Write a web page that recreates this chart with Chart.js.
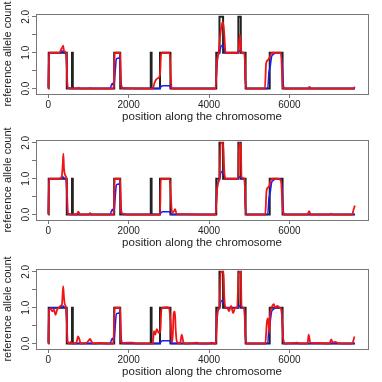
<!DOCTYPE html>
<html lang="en">
    <head>
        <meta charset="UTF-8">
        <title>reference allele count</title>
        <script src="https://cdn.jsdelivr.net/npm/chart.js"></script>
        <style>
            body {
                margin: 0;
                background: #ffffff;
            }
            .panel {
                position: absolute;
                left: 0;
                width: 382px;
                height: 127px;
            }
        </style>
    </head>
    <body>
        <canvas id="p1" class="panel" width="382" height="127" style="top:0px"></canvas>
        <canvas id="p2" class="panel" width="382" height="127" style="top:126px"></canvas>
        <canvas id="p3" class="panel" width="382" height="127" style="top:255px"></canvas>

        <script>
            // true state (step line, black)
            const blackX = [0, 10, 460, 590, 610, 1640, 1790, 2550, 2570, 2780, 3040, 4180, 4260, 4350, 4730, 4790, 4910, 5510, 5830, 7630];
            const blackY = [0, 1, 0, 1, 0, 1, 0, 1, 0, 1, 0, 1, 2, 1, 2, 1, 0, 1, 0, 0];

            // blue estimate, same in every panel
            const blueX = [0, 20, 40, 300, 330, 370, 410, 440, 460, 480, 520, 1540, 1570, 1600, 1630, 1660, 1690, 1720, 1760, 1780, 1800, 1820, 1850, 1900,
                2760, 2800, 2850, 3000, 3050, 3080, 4160, 4190, 4220, 4260, 4290, 4320, 4360, 4400, 4720, 4750, 4790, 4820, 4880, 4900, 4930,
                5460, 5490, 5520, 5560, 5600, 5650, 5790, 5820, 5850, 5880, 7630];
            const blueY = [0.05, 0.95, 1.0, 1.0, 1.05, 1.05, 1.0, 1.0, 0.6, 0.05, 0, 0, 0.1, 0.15, 0.05, 0.4, 0.8, 0.85, 0.85, 0.9, 0.4, 0.1, 0.02, 0,
                0, 0.05, 0.08, 0.08, 0.03, 0, 0, 0.5, 0.9, 1.0, 1.15, 1.2, 1.2, 1.0, 1.0, 1.05, 1.05, 1.0, 1.0, 0.3, 0,
                0, 0.45, 0.6, 0.9, 0.95, 1.0, 1.0, 0.7, 0.1, 0, 0];

            // red estimate, top panel
            const red1X = [0, 20, 280, 320, 350, 370, 390, 440, 460, 480, 700, 760, 800, 1000, 1040, 1080, 1630, 1650, 1790, 1810,
                2600, 2640, 2680, 2740, 2780, 2810, 3020, 3050, 3070, 4160, 4200, 4240, 4280, 4320, 4350, 4380, 4410, 4720, 4750, 4770, 4790, 4810, 4880, 4920,
                5390, 5420, 5470, 5520, 5560, 5790, 5830, 5860, 6460, 6500, 6540, 7590, 7630];
            const red1Y = [0, 1.0, 1.0, 1.1, 1.15, 1.2, 1.05, 1.0, 0.6, 0.02, 0, 0.03, 0, 0, 0.02, 0, 0, 1.0, 1.0, 0.02,
                0, 0.15, 0.25, 0.3, 0.4, 1.0, 1.0, 0.3, 0, 0, 0.8, 1.0, 1.5, 1.8, 1.85, 1.5, 1.0, 1.0, 1.3, 1.5, 1.2, 1.0, 1.0, 0,
                0, 0.7, 0.8, 0.9, 1.0, 1.0, 0.1, 0, 0, 0.05, 0, 0, 0.05];

            // red estimate, middle panel
            const red2X = [0, 20, 300, 340, 360, 375, 390, 420, 450, 470, 490, 700, 750, 790, 1000, 1040, 1080, 1630, 1650, 1790, 1810, 1850, 2000,
                2780, 2800, 3020, 3050, 3080, 3130, 3160, 3190, 4160, 4200, 4230, 4260, 4290, 4350, 4380, 4410, 4720, 4750, 4790, 4810, 4880, 4920,
                5400, 5430, 5460, 5500, 5540, 5600, 5700, 5790, 5830, 5860, 6450, 6490, 6530, 7000, 7040, 7080, 7560, 7600, 7630];
            const red2Y = [0, 1.0, 1.0, 1.1, 1.4, 1.7, 1.3, 1.1, 1.0, 0.5, 0.02, 0, 0.08, 0, 0, 0.04, 0, 0, 1.0, 1.0, 0.05, 0.03, 0,
                0, 1.0, 1.0, 0.5, 0.05, 0.1, 0.15, 0.02, 0, 0.7, 0.9, 1.0, 2.0, 2.0, 1.2, 1.0, 1.0, 2.0, 1.9, 1.05, 1.0, 0,
                0, 0.65, 0.75, 0.8, 0.97, 1.0, 1.0, 0.95, 0.2, 0, 0, 0.1, 0, 0, 0.03, 0, 0, 0.15, 0.25];

            // red estimate, bottom panel
            const red3X = [0, 20, 60, 100, 140, 180, 220, 260, 300, 340, 370, 390, 410, 440, 460, 480, 520, 560, 600, 700, 740, 780, 800,
                950, 1000, 1040, 1080, 1120, 1300, 1500, 1620, 1650, 1790, 1810, 1850, 2100, 2200,
                2600, 2630, 2660, 2700, 2750, 2790, 2810, 2840, 2950, 3000, 3050, 3070, 3090, 3120, 3150, 3170, 3200, 3280, 3320, 3360, 3400, 3700, 3750,
                4000, 4050, 4170, 4200, 4230, 4260, 4290, 4360, 4380, 4410, 4450, 4500, 4550, 4600, 4650, 4700, 4740, 4790, 4810, 4860, 4880, 4920,
                5400, 5440, 5470, 5500, 5520, 5560, 5610, 5650, 5700, 5760, 5800, 5840, 5870, 6200, 6250, 6450, 6480, 6520, 6700,
                7000, 7040, 7080, 7150, 7200, 7300, 7560, 7620];
            const red3Y = [0, 0.95, 0.97, 0.9, 0.95, 0.8, 0.95, 1.0, 1.05, 1.1, 1.6, 1.3, 1.1, 1.0, 0.6, 0.05, 0, 0.05, 0, 0.02, 0.2, 0.1, 0,
                0.02, 0.08, 0.13, 0.05, 0, 0.02, 0, 0, 1.0, 1.0, 0.05, 0.02, 0.03, 0,
                0, 0.35, 0.25, 0.4, 0.3, 0.35, 0.9, 1.0, 1.02, 1.0, 0.5, 0.1, 0.05, 0.85, 0.9, 0.4, 0.05, 0, 0.25, 0.05, 0, 0.03, 0,
                0, 0.03, 0, 0.8, 0.95, 1.0, 2.0, 2.0, 1.3, 1.0, 1.0, 0.9, 1.05, 0.85, 1.0, 1.0, 2.0, 2.0, 1.05, 1.0, 0.9, 0,
                0, 0.6, 0.7, 0.3, 0.8, 1.0, 1.1, 1.0, 1.05, 1.0, 0.95, 0.2, 0, 0.03, 0, 0, 0.25, 0.03, 0.02,
                0, 0.12, 0.03, 0.05, 0.02, 0, 0, 0.2];

            const xTicks = [0, 2000, 4000, 6000];
            const yTicks = [0, 0.5, 1, 1.5, 2];
            const yLabels = ['0.0', '', '1.0', '', '2.0'];

            const fontFamily = "'Liberation Sans', Arial, sans-serif";

            function pts(xs, ys) {
                return xs.map((x, i) => ({ x: x, y: ys[i] }));
            }

            // R style box round the plot region
            const boxPlugin = {
                id: 'box',
                afterDraw(chart) {
                    const a = chart.chartArea;
                    const ctx = chart.ctx;
                    ctx.save();
                    ctx.strokeStyle = '#777777';
                    ctx.lineWidth = 1;
                    ctx.strokeRect(Math.round(a.left) + 0.5, Math.round(a.top) + 0.5,
                        Math.round(a.right - a.left), Math.round(a.bottom - a.top));
                    ctx.restore();
                }
            };

            function makePanel(id, redX, redY) {
                const ctx = document.getElementById(id).getContext('2d');
                return new Chart(ctx, {
                    type: 'line',
                    data: {
                        datasets: [
                            {
                                label: 'red',
                                data: pts(redX, redY),
                                borderColor: '#f01414',
                                borderWidth: 1.8,
                                cubicInterpolationMode: 'monotone',
                                pointRadius: 0
                            },
                            {
                                label: 'blue',
                                data: pts(blueX, blueY),
                                borderColor: '#1a1aff',
                                borderWidth: 1.5,
                                cubicInterpolationMode: 'monotone',
                                pointRadius: 0
                            },
                            {
                                label: 'true',
                                data: pts(blackX, blackY),
                                borderColor: '#222222',
                                borderWidth: 2,
                                stepped: true,
                                pointRadius: 0
                            }
                        ]
                    },
                    options: {
                        responsive: false,
                        animation: false,
                        devicePixelRatio: 1,
                        layout: {
                            padding: { top: 14, right: 14, left: 0, bottom: 0 }
                        },
                        plugins: {
                            legend: { display: false },
                            tooltip: { enabled: false }
                        },
                        scales: {
                            x: {
                                type: 'linear',
                                min: -306,
                                max: 7956,
                                afterBuildTicks: s => { s.ticks = xTicks.map(v => ({ value: v })); },
                                afterFit: s => { s.height = 33; },
                                grid: {
                                    drawOnChartArea: false,
                                    color: '#777777',
                                    tickLength: 4
                                },
                                border: { display: false },
                                ticks: {
                                    color: '#222222',
                                    padding: 1,
                                    maxRotation: 0,
                                    autoSkip: false,
                                    font: { family: fontFamily, size: 10 },
                                    callback: v => String(v)
                                },
                                title: {
                                    display: true,
                                    text: 'position along the chromosome',
                                    color: '#222222',
                                    padding: { top: 0, bottom: 3 },
                                    font: { family: fontFamily, size: 11.5 }
                                }
                            },
                            y: {
                                type: 'linear',
                                min: -0.15,
                                max: 2.08,
                                afterBuildTicks: s => { s.ticks = yTicks.map(v => ({ value: v })); },
                                afterFit: s => { s.width = 36; },
                                grid: {
                                    drawOnChartArea: false,
                                    color: '#777777',
                                    tickLength: 4
                                },
                                border: { display: false },
                                ticks: {
                                    color: '#222222',
                                    minRotation: 90,
                                    maxRotation: 90,
                                    crossAlign: 'center',
                                    padding: -1.5,
                                    autoSkip: false,
                                    font: { family: fontFamily, size: 10 },
                                    callback: (v, i) => yLabels[i]
                                },
                                title: {
                                    display: true,
                                    text: 'reference allele count',
                                    color: '#222222',
                                    padding: { top: 1, bottom: 0 },
                                    font: { family: fontFamily, size: 11 }
                                }
                            }
                        }
                    },
                    plugins: [boxPlugin]
                });
            }

            makePanel('p1', red1X, red1Y);
            makePanel('p2', red2X, red2Y);
            makePanel('p3', red3X, red3Y);
        </script>
    </body>
</html>
